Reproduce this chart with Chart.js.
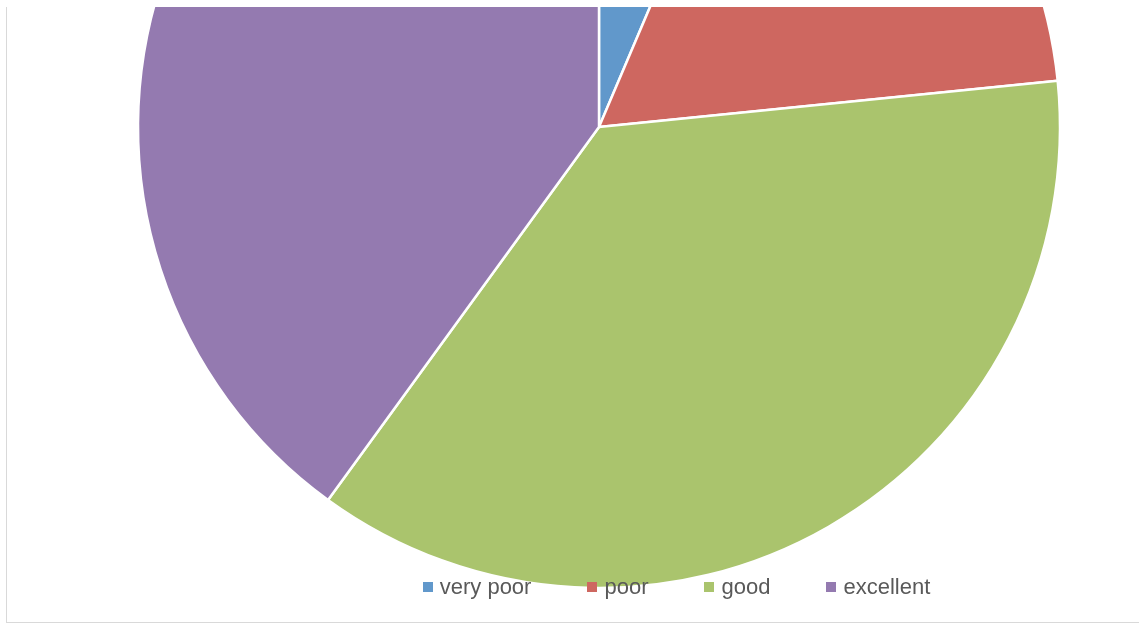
<!DOCTYPE html>
<html>
<head>
<meta charset="utf-8">
<script src="https://cdn.jsdelivr.net/npm/chart.js@4.4.0/dist/chart.umd.min.js"></script>
<style>
  html, body { margin: 0; padding: 0; background: #ffffff; }
  #page { position: relative; width: 1139px; height: 624px; overflow: hidden; background: #fff; }
  #frame { position: absolute; left: 6px; top: 7px; width: 1400px; height: 615px;
           border-left: 1px solid #d9d9d9; border-bottom: 1px solid #d9d9d9; overflow: hidden; }
  #pieBox { position: absolute; left: 112px; top: -360px; width: 960px; height: 960px; }
  #legend { position: absolute; left: 0; top: 569px; width: 1339px; height: 22px;
            display: flex; justify-content: center; align-items: center;
            font-family: "Liberation Sans", Arial, sans-serif; font-size: 22px; color: #595959; }
  .item { display: flex; align-items: center; margin: 0 28px; white-space: nowrap; }
  .sw { width: 10px; height: 10px; margin-right: 7px; }
</style>
</head>
<body>
<div id="page">
  <div id="frame">
    <div id="pieBox"><canvas id="c" width="960" height="960"></canvas></div>
    <div id="legend"></div>
  </div>
</div>
<script>
const categories = ["very poor", "poor", "good", "excellent"];
const values = [6.4, 17.0, 36.6, 40.0];
const colors = ["#6198CB", "#CE6760", "#AAC46D", "#947AB0"];

const legend = document.getElementById('legend');
categories.forEach((name, i) => {
  const it = document.createElement('div');
  it.className = 'item';
  const sw = document.createElement('div');
  sw.className = 'sw';
  sw.style.background = colors[i];
  const tx = document.createElement('span');
  tx.textContent = name;
  it.appendChild(sw);
  it.appendChild(tx);
  legend.appendChild(it);
});

new Chart(document.getElementById('c'), {
  type: 'pie',
  data: {
    labels: categories,
    datasets: [{
      data: values,
      backgroundColor: colors,
      borderColor: '#ffffff',
      borderWidth: 2.5
    }]
  },
  options: {
    responsive: false,
    animation: false,
    radius: 461,
    layout: { padding: 0 },
    plugins: {
      legend: { display: false },
      tooltip: { enabled: false }
    }
  }
});
</script>
</body>
</html>
